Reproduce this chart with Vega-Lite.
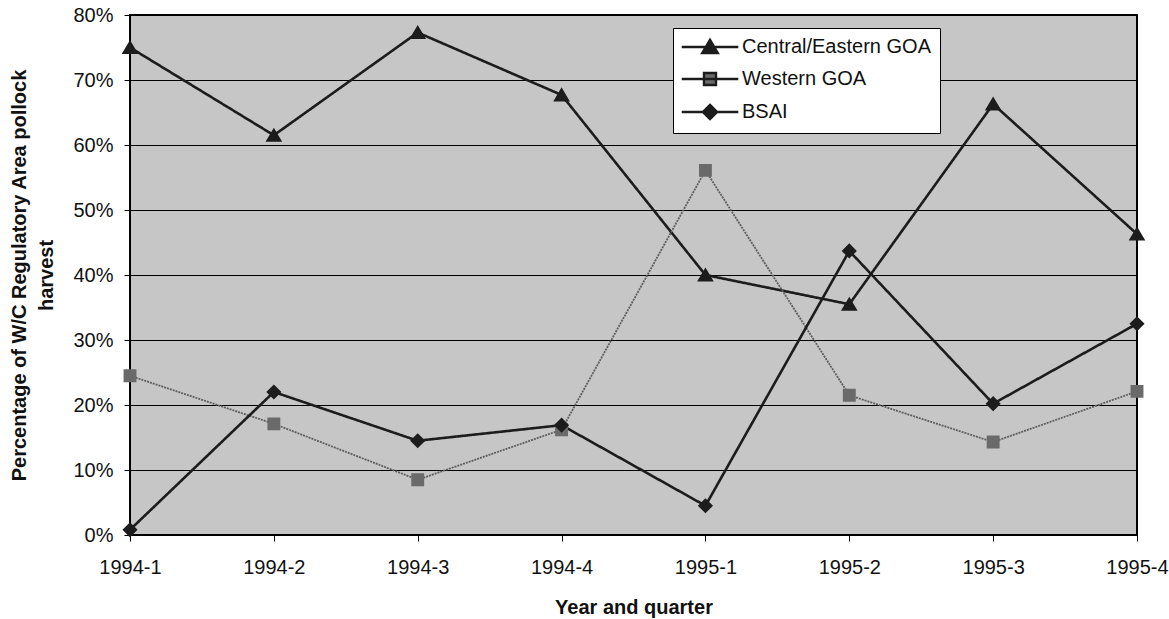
{
  "$schema": "https://vega.github.io/schema/vega-lite/v6.json",
  "width": 1007,
  "height": 520,
  "autosize": {"type": "none"},
  "padding": {"left": 130, "top": 15, "right": 32, "bottom": 84},
  "background": "white",
  "config": {
    "font": "Liberation Sans",
    "view": {"fill": "#c6c6c6", "stroke": "#000000", "strokeWidth": 2},
    "axis": {
      "labelFont": "Liberation Sans",
      "labelFontSize": 20,
      "labelColor": "#111111",
      "titleFont": "Liberation Sans",
      "titleFontSize": 20,
      "titleFontWeight": "bold",
      "titleColor": "#111111",
      "tickColor": "#000000",
      "tickSize": 6,
      "domain": false
    },
    "legend": {
      "symbolStrokeColor": "#1c1c1c",
      "symbolStrokeWidth": 2.4,
      "symbolOffset": 18
    }
  },
  "data": {
    "values": [
      {"q": "1994-1", "series": "Central/Eastern GOA", "v": 0.75},
      {"q": "1994-2", "series": "Central/Eastern GOA", "v": 0.615},
      {"q": "1994-3", "series": "Central/Eastern GOA", "v": 0.773},
      {"q": "1994-4", "series": "Central/Eastern GOA", "v": 0.677},
      {"q": "1995-1", "series": "Central/Eastern GOA", "v": 0.40},
      {"q": "1995-2", "series": "Central/Eastern GOA", "v": 0.355},
      {"q": "1995-3", "series": "Central/Eastern GOA", "v": 0.663},
      {"q": "1995-4", "series": "Central/Eastern GOA", "v": 0.463},
      {"q": "1994-1", "series": "Western GOA", "v": 0.245},
      {"q": "1994-2", "series": "Western GOA", "v": 0.171},
      {"q": "1994-3", "series": "Western GOA", "v": 0.085},
      {"q": "1994-4", "series": "Western GOA", "v": 0.162},
      {"q": "1995-1", "series": "Western GOA", "v": 0.561},
      {"q": "1995-2", "series": "Western GOA", "v": 0.215},
      {"q": "1995-3", "series": "Western GOA", "v": 0.143},
      {"q": "1995-4", "series": "Western GOA", "v": 0.221},
      {"q": "1994-1", "series": "BSAI", "v": 0.008},
      {"q": "1994-2", "series": "BSAI", "v": 0.22},
      {"q": "1994-3", "series": "BSAI", "v": 0.145},
      {"q": "1994-4", "series": "BSAI", "v": 0.169},
      {"q": "1995-1", "series": "BSAI", "v": 0.045},
      {"q": "1995-2", "series": "BSAI", "v": 0.437},
      {"q": "1995-3", "series": "BSAI", "v": 0.202},
      {"q": "1995-4", "series": "BSAI", "v": 0.325}
    ]
  },
  "encoding": {
    "x": {
      "field": "q",
      "type": "ordinal",
      "scale": {"type": "point", "padding": 0},
      "axis": {"labelAngle": 0, "title": "Year and quarter", "labelPadding": 16, "titlePadding": 20, "grid": false}
    },
    "y": {
      "field": "v",
      "type": "quantitative",
      "scale": {"domain": [0, 0.8], "nice": false, "zero": true},
      "axis": {
        "values": [0, 0.1, 0.2, 0.3, 0.4, 0.5, 0.6, 0.7, 0.8],
        "format": ".0%",
        "grid": true,
        "gridColor": "#000000",
        "gridOpacity": 1,
        "gridWidth": 1.2,
        "labelPadding": 11,
        "title": ["Percentage of W/C Regulatory Area pollock", "harvest"],
        "titlePadding": 16,
        "titleLineHeight": 27
      }
    }
  },
  "layer": [
    {
      "mark": {"type": "line", "strokeJoin": "miter"},
      "encoding": {
        "detail": {"field": "series", "type": "nominal"},
        "stroke": {
          "condition": {"test": "datum.series === 'Western GOA'", "value": "#5e5e5e"},
          "value": "#1c1c1c"
        },
        "strokeWidth": {
          "condition": {"test": "datum.series === 'Western GOA'", "value": 1.8},
          "value": 2.6
        },
        "strokeDash": {
          "condition": {"test": "datum.series === 'Western GOA'", "value": [2, 1]},
          "value": [1, 0]
        }
      }
    },
    {
      "mark": {"type": "point", "filled": true, "opacity": 1, "size": 230, "strokeWidth": 0},
      "encoding": {
        "color": {
          "field": "series",
          "type": "nominal",
          "scale": {"domain": ["Central/Eastern GOA", "Western GOA", "BSAI"], "range": ["#1c1c1c", "#6a6a6a", "#1c1c1c"]},
          "legend": {
            "title": null,
            "orient": "none",
            "legendX": 543,
            "legendY": 13,
            "fillColor": "#ffffff",
            "strokeColor": "#000000",
            "padding": 9,
            "labelFontSize": 20,
            "labelFont": "Liberation Sans",
            "labelColor": "#111111",
            "labelOffset": 22,
            "labelLimit": 400,
            "symbolSize": 200,
            "symbolOffset": 18,
            "symbolStrokeColor": "#1c1c1c",
            "symbolStrokeWidth": 2.4,
            "rowPadding": 10
          }
        },
        "shape": {
          "field": "series",
          "type": "nominal",
          "scale": {
            "domain": ["Central/Eastern GOA", "Western GOA", "BSAI"],
            "range": [
              "M-4,0H4M0,-1L1.1,0.85L-1.1,0.85Z",
              "M-4,0H4M-0.85,-0.85H0.85V0.85H-0.85Z",
              "M-4,0H4M0,-1L1,0L0,1L-1,0Z"
            ]
          },
          "legend": {
            "title": null,
            "orient": "none",
            "legendX": 543,
            "legendY": 13,
            "fillColor": "#ffffff",
            "strokeColor": "#000000",
            "padding": 9,
            "labelFontSize": 20,
            "labelFont": "Liberation Sans",
            "labelColor": "#111111",
            "labelOffset": 22,
            "labelLimit": 400,
            "symbolSize": 200,
            "symbolOffset": 18,
            "symbolStrokeColor": "#1c1c1c",
            "symbolStrokeWidth": 2.4,
            "rowPadding": 10
          }
        }
      }
    }
  ]
}
